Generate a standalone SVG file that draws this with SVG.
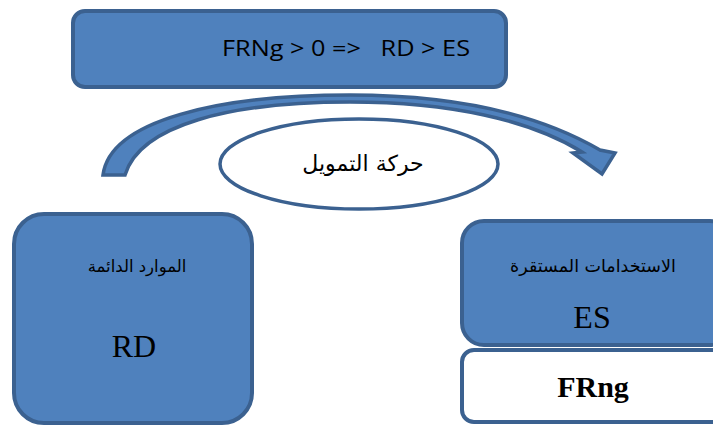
<svg xmlns="http://www.w3.org/2000/svg" width="713" height="427" viewBox="0 0 713 427">
<style>
.box{fill:#4f81bd;stroke:#3b6190;stroke-width:4}
.wbox{fill:#ffffff;stroke:#3b6190;stroke-width:4}
.sans{font-family:"Open Sans","Liberation Sans","DejaVu Sans",sans-serif;fill:#000}
.ar{font-family:"DejaVu Serif","DejaVu Sans",serif;fill:#000}
.ars{font-family:"DejaVu Sans",sans-serif;fill:#000}
.ser{font-family:"Liberation Serif",serif;fill:#000}
</style>
<rect width="713" height="427" fill="#ffffff"/>
<g id="top">
<rect class="box" x="73" y="11" width="433" height="76" rx="12"/>
<text class="sans" x="346" y="56" font-size="21" text-anchor="middle" xml:space="preserve" textLength="248" lengthAdjust="spacingAndGlyphs">FRNg &gt; 0 =&gt;   RD &gt; ES</text>
</g>
<g id="connectors">
<path d="M103,175 C110,120 220,95 350,95 C460,95 540,115 600,150 L615,153 L602,174 L573,153 L582,152 C530,120 450,102 350,102 C230,102 140,125 125,175 Z" fill="#4f81bd" stroke="#3b6190" stroke-width="3.5" stroke-linejoin="miter"/>
</g>
<g id="ellipse">
<ellipse cx="359" cy="164" rx="139" ry="45" fill="#ffffff" stroke="#3b6190" stroke-width="3.5"/>
<text class="ars" x="363" y="171" font-size="22" text-anchor="middle" direction="rtl">حركة التمويل</text>
</g>
<g id="rd">
<rect class="box" x="14" y="214" width="238" height="209" rx="30"/>
<text class="ar" x="137" y="272" font-size="16.5" text-anchor="middle" direction="rtl">الموارد الدائمة</text>
<text class="ser" x="134" y="357" font-size="32" text-anchor="middle">RD</text>
</g>
<g id="es">
<rect class="box" x="462" y="221" width="270" height="124" rx="22"/>
<text class="ar" x="593" y="272" font-size="17.5" text-anchor="middle" direction="rtl">الاستخدامات المستقرة</text>
<text class="ser" x="592" y="328" font-size="32" text-anchor="middle">ES</text>
</g>
<g id="frng">
<rect class="wbox" x="462" y="350" width="270" height="72" rx="12"/>
<text class="ser" x="593" y="397" font-size="30" font-weight="bold" text-anchor="middle">FRng</text>
</g>
</svg>
